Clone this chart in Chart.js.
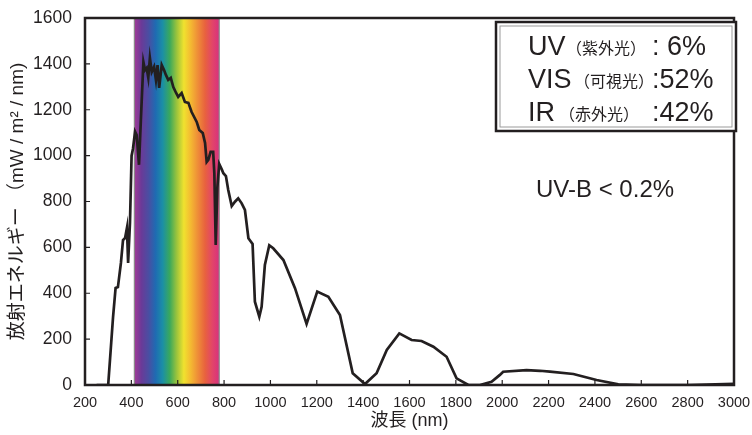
<!DOCTYPE html>
<html>
<head>
<meta charset="utf-8">
<script src="https://cdn.jsdelivr.net/npm/chart.js@4.4.1/dist/chart.umd.min.js"></script>
<style>
    html, body { margin: 0; padding: 0; background: #fff; }
</style>
</head>
<body>
<canvas id="myChart" width="752" height="435"></canvas>
<script>
// spectrum data
const wavelengths = [250, 300, 321, 332, 342, 355, 364, 373, 381, 386, 394, 401, 407, 416, 423, 433, 441, 452, 459, 466, 473, 480, 488, 498, 506, 513, 520, 531, 541, 549, 559, 570, 581, 593, 602, 617, 631, 646, 660, 682, 693, 708, 718, 725, 732, 742, 753, 758, 764, 771, 779, 790, 797, 808, 818, 833, 847, 861, 876, 890, 905, 923, 933, 952, 962, 976, 995, 1012, 1056, 1106, 1156, 1202, 1250, 1300, 1355, 1408, 1458, 1502, 1556, 1609, 1652, 1703, 1760, 1803, 1854, 1904, 1954, 1990, 2004, 2105, 2163, 2206, 2307, 2407, 2501, 2600, 2800, 3000];
const irradiance = [0, 0, 296, 423, 427, 532, 632, 641, 685, 532, 706, 1000, 1030, 1105, 1090, 960, 1155, 1408, 1373, 1382, 1340, 1426, 1365, 1387, 1330, 1395, 1295, 1395, 1373, 1352, 1330, 1339, 1299, 1273, 1256, 1273, 1234, 1230, 1190, 1147, 1112, 1099, 1055, 972, 981, 1016, 1016, 924, 610, 860, 964, 940, 923, 911, 850, 780, 799, 814, 792, 763, 640, 615, 363, 298, 341, 523, 609, 596, 545, 422, 266, 407, 385, 305, 51, 4, 51, 153, 225, 196, 192, 167, 123, 29, 0, 0, 14, 44, 58, 65, 62, 58, 48, 22, 3, 0, 0, 5];

const xTicks = [200, 400, 600, 800, 1000, 1200, 1400, 1600, 1800, 2000, 2200, 2400, 2600, 2800, 3000];
const yTicks = [0, 200, 400, 600, 800, 1000, 1200, 1400, 1600];

const visibleBand = [413, 779];
const rainbowColors = ["#a03c96", "#6a3a98", "#4a4ea2", "#1f6bb2", "#1b8fa6", "#3aa85c", "#9cc43c", "#f0e22e", "#f4b832", "#ee8c38", "#e8623e", "#e24668", "#d8307e"];

const shareLabels = ["UV", "VIS", "IR"];
const shareNames = ["（紫外光）", "（可視光）", "（赤外光）"];
const shareValues = [": 6%", ":52%", ":42%"];
const uvbNote = "UV-B < 0.2%";

const INK = "#231f20";
const FONT = "'Liberation Sans', 'Noto Sans CJK JP', sans-serif";

// rainbow band behind the curve
const bandPlugin = {
    id: "band",
    beforeDatasetsDraw(chart) {
        const { ctx, chartArea, scales } = chart;
        const x0 = scales.x.getPixelForValue(visibleBand[0]);
        const x1 = scales.x.getPixelForValue(visibleBand[1]);
        const grad = ctx.createLinearGradient(x0, 0, x1, 0);
        rainbowColors.forEach((c, i) => grad.addColorStop(i / (rainbowColors.length - 1), c));
        ctx.save();
        ctx.fillStyle = grad;
        ctx.fillRect(x0, chartArea.top, x1 - x0, chartArea.bottom - chartArea.top);
        ctx.strokeStyle = "#8a8a8a";
        ctx.lineWidth = 1.2;
        ctx.strokeRect(x0, chartArea.top, x1 - x0, chartArea.bottom - chartArea.top);
        ctx.restore();
    }
};

// frame, inward ticks, percentage box
const framePlugin = {
    id: "frame",
    afterDraw(chart) {
        const { ctx, chartArea, scales } = chart;
        const { left, right, top, bottom } = chartArea;
        ctx.save();
        ctx.strokeStyle = INK;

        // inward tick marks
        ctx.lineWidth = 1.2;
        ctx.beginPath();
        xTicks.slice(1, -1).forEach(v => {
            const px = scales.x.getPixelForValue(v);
            ctx.moveTo(px, bottom);
            ctx.lineTo(px, bottom - 5);
        });
        yTicks.slice(1, -1).forEach(v => {
            const py = scales.y.getPixelForValue(v);
            ctx.moveTo(left, py);
            ctx.lineTo(left + 5, py);
        });
        ctx.stroke();

        ctx.lineWidth = 2.5;
        ctx.strokeRect(left, top, right - left, bottom - top);

        // share box
        const bx1 = right + 2, bx0 = bx1 - 240, by0 = top + 4, by1 = by0 + 109;
        ctx.fillStyle = "#fff";
        ctx.fillRect(bx0, by0, bx1 - bx0, by1 - by0);
        ctx.lineWidth = 2.5;
        ctx.strokeRect(bx0, by0, bx1 - bx0, by1 - by0);
        ctx.strokeStyle = "#9a9a9a";
        ctx.lineWidth = 1;
        ctx.strokeRect(bx0 + 4, by0 + 4, bx1 - bx0 - 8, by1 - by0 - 8);

        ctx.fillStyle = INK;
        ctx.textBaseline = "alphabetic";
        const nameX = [70, 78, 63];
        shareLabels.forEach((lab, i) => {
            const base = by0 + 33 + i * 33;
            ctx.font = "27px " + FONT;
            ctx.fillText(lab, bx0 + 32, base);
            ctx.fillText(shareValues[i], bx0 + 156, base);
            ctx.font = "16px 'Noto Sans CJK JP', sans-serif";
            ctx.fillText(shareNames[i], bx0 + nameX[i], base - 1);
        });

        ctx.font = "24px " + FONT;
        ctx.fillText(uvbNote, bx0 + 40, top + 179);
        ctx.restore();
    }
};

const ctx = document.getElementById("myChart").getContext("2d");
const myChart = new Chart(ctx, {
    type: "line",
    data: {
        datasets: [
            {
                label: "irradiance",
                data: wavelengths.map((w, i) => ({ x: w, y: irradiance[i] })),
                borderColor: INK,
                borderWidth: 2.7,
                pointRadius: 0,
                tension: 0,
                fill: false,
            }
        ]
    },
    options: {
        responsive: false,
        animation: false,
        layout: { padding: { left: 0, right: 18, top: 18, bottom: 0 } },
        plugins: {
            legend: { display: false },
            tooltip: { enabled: false },
        },
        scales: {
            x: {
                type: "linear",
                min: 200,
                max: 3000,
                afterBuildTicks: scale => { scale.ticks = xTicks.map(v => ({ value: v })); },
                afterFit: scale => {
                    scale.height = 50;
                    scale.paddingLeft = 0;
                    scale.paddingRight = 0;
                },
                grid: { display: false, drawTicks: false },
                border: { display: false },
                ticks: { color: INK, padding: 9, maxRotation: 0, autoSkip: false, callback: v => String(v), font: { family: FONT, size: 14.5 } },
                title: {
                    display: true,
                    text: "波長 (nm)",
                    color: INK,
                    font: { family: FONT, size: 18 },
                    padding: { top: 0, bottom: 3 },
                },
            },
            y: {
                min: 0,
                max: 1600,
                afterBuildTicks: scale => { scale.ticks = yTicks.map(v => ({ value: v })); },
                afterFit: scale => {
                    scale.width = 85;
                    scale.paddingTop = 0;
                    scale.paddingBottom = 0;
                },
                grid: { display: false, drawTicks: false },
                border: { display: false },
                ticks: { color: INK, padding: 13, callback: v => String(v), font: { family: FONT, size: 17.5 } },
                title: {
                    display: true,
                    text: "放射エネルギー （mW / m² / nm)",
                    color: INK,
                    font: { family: FONT, size: 19 },
                    padding: { top: 6, bottom: 0 },
                },
            }
        }
    },
    plugins: [bandPlugin, framePlugin],
});
</script>
</body>
</html>
